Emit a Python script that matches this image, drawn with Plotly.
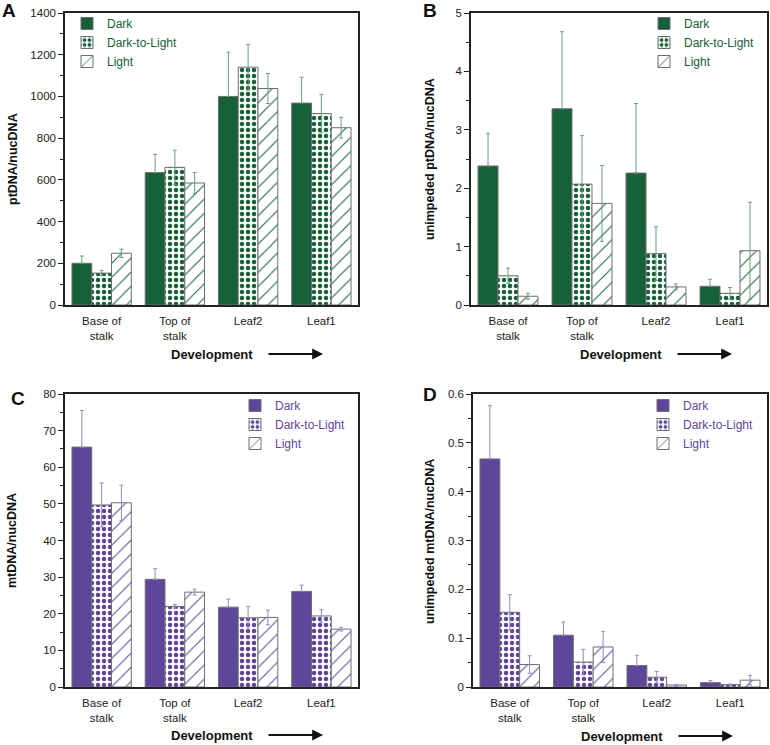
import plotly.graph_objects as go

stages = ["Base of<br>stalk", "Top of<br>stalk", "Leaf2", "Leaf1"]
series = ["Dark", "Dark-to-Light", "Light"]

# panel A: ptDNA/nucDNA
a_dark = [200, 635, 1000, 968]
a_dtl = [153, 660, 1140, 918]
a_light = [248, 585, 1038, 850]
a_dark_err = [35, 87, 212, 124]
a_dtl_err = [12, 82, 110, 92]
a_light_err = [20, 51, 72, 50]

# panel B: unimpeded ptDNA/nucDNA
b_dark = [2.38, 3.36, 2.26, 0.32]
b_dtl = [0.50, 2.07, 0.88, 0.20]
b_light = [0.15, 1.74, 0.31, 0.93]
b_dark_err = [0.56, 1.32, 1.19, 0.12]
b_dtl_err = [0.13, 0.83, 0.46, 0.10]
b_light_err = [0.05, 0.65, 0.05, 0.83]

# panel C: mtDNA/nucDNA
c_dark = [65.5, 29.4, 21.8, 26.1]
c_dtl = [49.7, 22.0, 18.9, 19.4]
c_light = [50.3, 25.9, 19.0, 15.8]
c_dark_err = [10.0, 2.9, 2.2, 1.7]
c_dtl_err = [6.0, 0.5, 3.1, 1.7]
c_light_err = [4.8, 0.8, 2.0, 0.5]

# panel D: unimpeded mtDNA/nucDNA
d_dark = [0.467, 0.106, 0.044, 0.009]
d_dtl = [0.153, 0.051, 0.020, 0.005]
d_light = [0.046, 0.082, 0.004, 0.014]
d_dark_err = [0.109, 0.027, 0.021, 0.004]
d_dtl_err = [0.036, 0.026, 0.012, 0.001]
d_light_err = [0.018, 0.032, 0.001, 0.010]

GREEN = "#16603a"
GREEN_ERR = "#6a9f7c"
PURPLE = "#5e479b"
PURPLE_ERR = "#9587c4"
W, H = 770, 745


def px_x(p):
    return p / W


def px_y(p):
    return 1 - p / H


panels = [
    # letter, values, errors, color, errcolor, ytitle, yrange, dtick, minor,
    # xdom(px), ydom(px), legend pos, letter pos, ytitle pos, development pos
    ("A", [a_dark, a_dtl, a_light], [a_dark_err, a_dtl_err, a_light_err], GREEN, GREEN_ERR,
     "ptDNA/nucDNA", [0, 1400], 200, 100, (65, 358), (13, 305), (67, 9),
     (9, 11), (13, 159), (212, 354)),
    ("B", [b_dark, b_dtl, b_light], [b_dark_err, b_dtl_err, b_light_err], GREEN, GREEN_ERR,
     "unimpeded ptDNA/nucDNA", [0, 5], 1, 0.5, (471, 767), (13, 305), (644, 9),
     (430, 11), (430, 159), (621, 354)),
    ("C", [c_dark, c_dtl, c_light], [c_dark_err, c_dtl_err, c_light_err], PURPLE, PURPLE_ERR,
     "mtDNA/nucDNA", [0, 80], 10, 5, (65, 358), (394, 687), (235, 391),
     (18, 398), (12, 541), (212, 735)),
    ("D", [d_dark, d_dtl, d_light], [d_dark_err, d_dtl_err, d_light_err], PURPLE, PURPLE_ERR,
     "unimpeded mtDNA/nucDNA", [0, 0.6], 0.1, 0.05, (473, 767), (394, 687), (643, 391),
     (430, 394), (430, 542), (622, 736)),
]

fig = go.Figure()
layout = {}
annotations = []

for i, (letter, vals, errs, col, ecol, ytitle, yr, dt, mn, xd, yd, lg, lp, tp, dp) in enumerate(panels):
    n = "" if i == 0 else str(i + 1)
    leg = "legend" + n
    patterns = [
        dict(shape=""),
        dict(shape=".", fgcolor=col, bgcolor="white", size=6, solidity=0.45, fillmode="replace"),
        dict(shape="/", fgcolor=col, bgcolor="white", size=10, solidity=0.1, fillmode="replace"),
    ]
    for k, (s, v, e, pat) in enumerate(zip(series, vals, errs, patterns)):
        err = dict(type="data", array=e, color=ecol, thickness=1, width=2)
        if k == 0:
            # lower whisker hidden behind the solid bar
            err.update(symmetric=False, arrayminus=[0] * len(e))
        fig.add_trace(go.Bar(
            x=stages, y=v, name=s, xaxis="x" + n, yaxis="y" + n, legend=leg,
            marker=dict(color=col if pat["shape"] == "" else "white", pattern=pat,
                        line=dict(color="#6e6e6e", width=1)),
            error_y=err,
        ))
    layout["xaxis" + n] = dict(
        domain=[px_x(xd[0]), px_x(xd[1])], anchor="y" + n, showline=True, linecolor="#222",
        linewidth=1.5, mirror=True, ticks="", tickfont=dict(size=11.5, color="#222"),
        ticklabelstandoff=4,
    )
    layout["yaxis" + n] = dict(
        domain=[px_y(yd[1]), px_y(yd[0])], anchor="x" + n, range=yr, dtick=dt,
        showline=True, linecolor="#222", linewidth=1.5, mirror=True, showgrid=False, zeroline=False,
        ticks="outside", ticklen=5, tickcolor="#222", tickfont=dict(size=11.5, color="#222"),
        minor=dict(dtick=mn, ticks="outside", ticklen=3, tickcolor="#222"),
    )
    layout[leg] = dict(
        x=px_x(lg[0]), y=px_y(lg[1]), xanchor="left", yanchor="top", bgcolor="rgba(0,0,0,0)",
        font=dict(size=12, color=col), itemwidth=30, tracegroupgap=0,
    )
    annotations.append(dict(
        text="<b>" + letter + "</b>", x=px_x(lp[0]), y=px_y(lp[1]), xref="paper", yref="paper",
        showarrow=False, font=dict(size=19, color="#111"), xanchor="center", yanchor="middle",
    ))
    annotations.append(dict(
        text="<b>" + ytitle + "</b>", x=px_x(tp[0]), y=px_y(tp[1]), xref="paper", yref="paper",
        showarrow=False, textangle=-90, font=dict(size=12.5, color="#111"),
        xanchor="center", yanchor="middle",
    ))
    annotations.append(dict(
        text="<b>Development</b>", x=px_x(dp[0]), y=px_y(dp[1]), xref="paper", yref="paper",
        showarrow=False, font=dict(size=13, color="#111"), xanchor="center", yanchor="middle",
    ))
    # arrow after "Development"
    annotations.append(dict(
        x=px_x(dp[0] + 111), y=px_y(dp[1]), ax=-56, ay=0,
        xref="paper", yref="paper", axref="pixel", ayref="pixel", text="",
        showarrow=True, arrowhead=2, arrowsize=1.2, arrowwidth=1.8, arrowcolor="#111",
    ))

fig.update_layout(
    **layout,
    annotations=annotations,
    barmode="group", bargap=0.19, bargroupgap=0,
    width=W, height=H, margin=dict(l=0, r=0, t=0, b=0, autoexpand=False),
    plot_bgcolor="white", paper_bgcolor="white",
    font=dict(family="Liberation Sans, Arial, sans-serif"),
)

# drop the page's default body margin so the figure sits at the window corner
fig.write_html("out.html", config={"displayModeBar": False},
               post_script="document.body.style.margin='0';document.body.style.overflow='hidden';")
